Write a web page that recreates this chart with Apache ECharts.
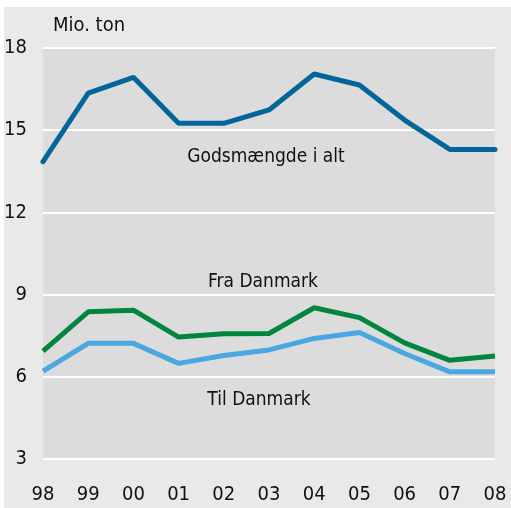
<!DOCTYPE html>
<html>
<head>
<meta charset="utf-8">
<script src="https://cdn.jsdelivr.net/npm/echarts@6/dist/echarts.min.js"></script>
<style>
  html,body{margin:0;padding:0;background:#fff;}
  #chart{width:511px;height:508px;}
</style>
</head>
<body>
<div id="chart"></div>
<script>
// år
var years = ['98','99','00','01','02','03','04','05','06','07','08'];
// mio. ton
var godsIAlt   = [13.85,16.35,16.93,15.25,15.25,15.74,17.05,16.65,15.37,14.3,14.3];
var fraDanmark = [6.94,8.37,8.43,7.45,7.57,7.58,8.52,8.16,7.24,6.6,6.76];
var tilDanmark = [6.21,7.22,7.22,6.49,6.78,6.98,7.40,7.62,6.85,6.18,6.18];
var yTicks = [3,6,9,12,15,18];

var font = '"Liberation Sans Narrow","DejaVu Sans Condensed","Liberation Sans",sans-serif';

var myChart = echarts.init(document.getElementById('chart'));
var option = {
    animation:false,
    backgroundColor:'#fff',
    textStyle:{fontFamily:font},
    graphic:[
        {type:'rect',z:-10,shape:{x:4,y:7,width:507,height:501},style:{fill:'#e9e9e9'}},
        {type:'text',left:53,top:16,style:{text:'Mio. ton',font:'20px '+font,fill:'#111'}},
        {type:'text',x:266,y:157,style:{text:'Godsmængde i alt',font:'19px '+font,fill:'#111',align:'center',verticalAlign:'middle'}},
        {type:'text',x:263,y:282,style:{text:'Fra Danmark',font:'19px '+font,fill:'#111',align:'center',verticalAlign:'middle'}},
        {type:'text',x:259,y:400,style:{text:'Til Danmark',font:'19px '+font,fill:'#111',align:'center',verticalAlign:'middle'}}
    ],
    grid:{
        left:43,right:16,top:48,bottom:49,
        show:true,backgroundColor:'#dcdcdc',borderWidth:0
    },
    xAxis:{
        type:'category',
        data:years,
        boundaryGap:false,
        axisLine:{show:false},
        axisTick:{show:false},
        axisLabel:{fontSize:20,color:'#111',margin:26,fontFamily:font}
    },
    yAxis:{
        type:'value',
        min:yTicks[0],max:yTicks[yTicks.length-1],interval:3,
        axisLine:{show:false},
        axisTick:{show:false},
        axisLabel:{fontSize:20,color:'#111',margin:16,fontFamily:font},
        splitLine:{lineStyle:{color:'#fff',width:2}}
    },
    series:[
        {name:'Godsmængde i alt',type:'line',data:godsIAlt,symbol:'none',
            lineStyle:{color:'#00669a',width:5,cap:'round'}},
        {name:'Fra Danmark',type:'line',data:fraDanmark,symbol:'none',
            lineStyle:{color:'#008540',width:5}},
        {name:'Til Danmark',type:'line',data:tilDanmark,symbol:'none',
            lineStyle:{color:'#4aa8e0',width:5}}
    ]
};
myChart.setOption(option);
</script>
</body>
</html>
